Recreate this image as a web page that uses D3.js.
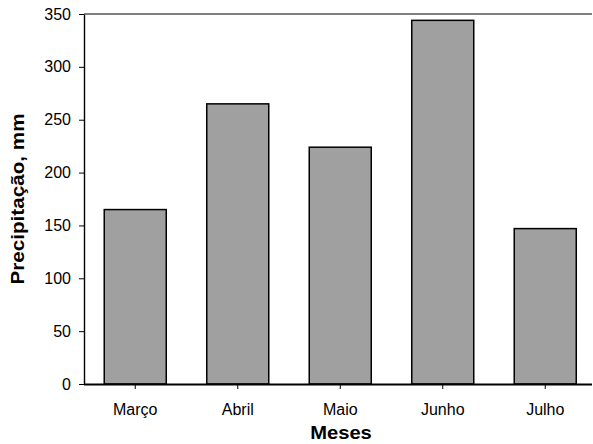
<!DOCTYPE html>
<html>
<head>
<meta charset="utf-8">
<script src="https://cdn.jsdelivr.net/npm/d3@7"></script>
<style>
	body { margin: 0; background: #fff; }
	svg text { font-family: "Liberation Sans", Arial, sans-serif; }
</style>
</head>
<body>
<div id="chart"></div>
<script>
"use strict";
// data
const meses = ["Março", "Abril", "Maio", "Junho", "Julho"];
const precipitacao = [165, 265, 224, 344, 147];
const yTicks = [0, 50, 100, 150, 200, 250, 300, 350];

const WIDTH = 593, HEIGHT = 444;
const plotLeft = 84, plotRight = 592, plotTop = 14, plotBottom = 384;

const svg = d3.select("#chart").append("svg")
	.attr("width", WIDTH)
	.attr("height", HEIGHT);

const x = d3.scaleBand()
	.domain(meses)
	.range([plotLeft, plotLeft + 5 * 102.5])
	.paddingInner(0.395)
	.paddingOuter(0.1975);

const y = d3.scaleLinear()
	.domain([0, 350])
	.range([plotBottom, plotTop]);

// bars
svg.selectAll("rect.bar")
	.data(meses)
	.enter()
	.append("rect")
	.attr("class", "bar")
	.attr("x", d => x(d))
	.attr("y", (d, i) => y(precipitacao[i]))
	.attr("width", x.bandwidth())
	.attr("height", (d, i) => y(0) - y(precipitacao[i]))
	.style("fill", "#a0a0a0")
	.style("stroke", "#000")
	.style("stroke-width", "1.5px");

// top frame line
svg.append("line")
	.attr("x1", plotLeft).attr("x2", plotRight)
	.attr("y1", plotTop).attr("y2", plotTop)
	.style("stroke", "#000")
	.style("stroke-width", "1px");

// y axis
const yAxis = svg.append("g")
	.attr("transform", "translate(" + plotLeft + ",0)")
	.call(d3.axisLeft(y).tickValues(yTicks).tickSize(5).tickSizeOuter(0).tickPadding(8));
yAxis.select(".domain").style("stroke-width", "1.4px");
yAxis.selectAll("text").style("font-size", "16px").style("fill", "#000");

// x axis
const xAxis = svg.append("g")
	.attr("transform", "translate(0," + plotBottom + ")")
	.call(d3.axisBottom(x).tickSize(5).tickSizeOuter(0).tickPadding(14.5));
xAxis.select(".domain").attr("d", "M" + plotLeft + ",0.5H" + plotRight).style("stroke-width", "1.8px");
xAxis.selectAll("text").style("font-size", "16px").style("fill", "#000");

// axis titles (a bit stretched along the text, like the original)
svg.append("text")
	.attr("transform", "translate(341,439) scale(1.12,1)")
	.attr("text-anchor", "middle")
	.style("font-size", "18px")
	.style("font-weight", "bold")
	.text("Meses");

svg.append("text")
	.attr("transform", "translate(24," + (plotTop + plotBottom) / 2 + ") rotate(-90) scale(1.15,1)")
	.attr("text-anchor", "middle")
	.style("font-size", "18px")
	.style("font-weight", "bold")
	.text("Precipitação, mm");
</script>
</body>
</html>
